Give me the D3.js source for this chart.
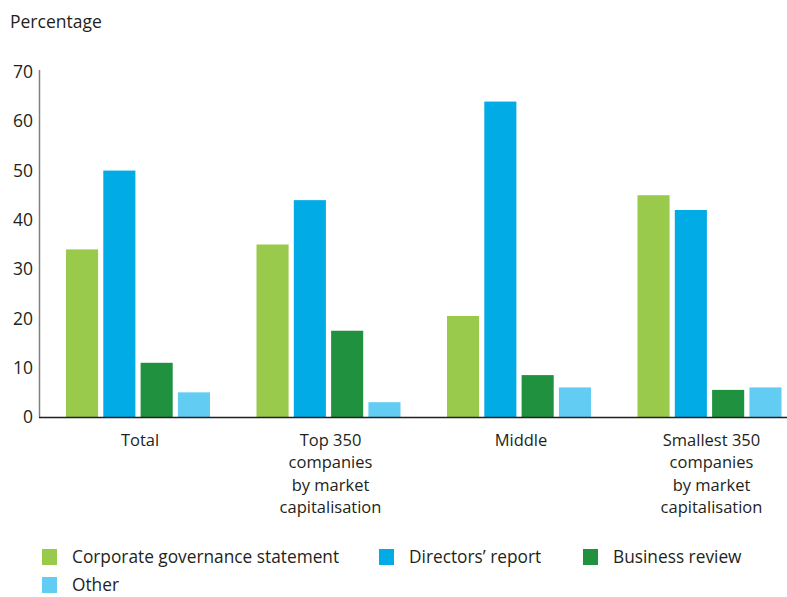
<!DOCTYPE html>
<html>
<head>
<meta charset="utf-8">
<script src="https://cdn.jsdelivr.net/npm/d3@7"></script>
<style>
  html, body { margin: 0; padding: 0; background: #fff; }
  svg { display: block; }
  text { font-family: "Open Sans", "Noto Sans", sans-serif; fill: #231f20; }
</style>
</head>
<body>
<svg id="chart" width="787" height="597"></svg>
<script>
// Groups along the x axis (each label may wrap over several lines)
const categories = ["Total", "Top 350 companies by market capitalisation", "Middle", "Smallest 350 companies by market capitalisation"];
const categoryLines = [["Total"], ["Top 350", "companies", "by market", "capitalisation"], ["Middle"], ["Smallest 350", "companies", "by market", "capitalisation"]];

// Where disclosures appear, by series (percentage of companies)
const seriesNames = ["Corporate governance statement", "Directors\u2019 report", "Business review", "Other"];
const seriesColors = ["#99ca4b", "#00abe6", "#20913f", "#62ccf2"];
const corporateGovernance = [34, 35, 20.5, 45];
const directorsReport = [50, 44, 64, 42];
const businessReview = [11, 17.5, 8.5, 5.5];
const other = [5, 3, 6, 6];
const seriesValues = [corporateGovernance, directorsReport, businessReview, other];

const yTicks = [0, 10, 20, 30, 40, 50, 60, 70];

const svg = d3.select("#chart");

const y = d3.scaleLinear().domain([0, 70]).range([417, 72]);
const x0 = d3.scaleBand().domain(categories).range([42.75, 804.75]).padding(0);
const x1 = d3.scaleBand().domain(seriesNames)
  .range([-72, 72]).paddingInner(0.14).paddingOuter(0);

// Bars
const groups = svg.append("g").selectAll("g")
  .data(categories)
  .join("g")
  .attr("transform", d => `translate(${x0(d) + x0.bandwidth() / 2},0)`);

groups.selectAll("rect")
  .data((c, ci) => seriesNames.map((s, si) => ({ s, si, v: seriesValues[si][ci] })))
  .join("rect")
  .attr("x", d => x1(d.s))
  .attr("width", x1.bandwidth())
  .attr("y", d => y(d.v))
  .attr("height", d => y(0) - y(d.v))
  .attr("fill", d => seriesColors[d.si]);

// Y axis
const yAxis = svg.append("g")
  .attr("transform", "translate(39,0)")
  .call(d3.axisLeft(y).tickValues(yTicks).tickSize(0).tickPadding(6));
yAxis.select(".domain").remove();
yAxis.selectAll("text")
  .style("font-family", "'Open Sans', 'Noto Sans', sans-serif")
  .style("font-size", "17.5px")
  .style("fill", "#231f20");

svg.append("line")
  .attr("x1", 39.5).attr("x2", 39.5)
  .attr("y1", 70).attr("y2", y(0))
  .attr("stroke", "#808080").attr("stroke-width", 1.5);

// X axis baseline
svg.append("line")
  .attr("x1", 39).attr("x2", 787)
  .attr("y1", y(0) + 0.5).attr("y2", y(0) + 0.5)
  .attr("stroke", "#231f20").attr("stroke-width", 1.5);

// Category labels
const xLabels = svg.append("g").selectAll("text")
  .data(categories)
  .join("text")
  .attr("text-anchor", "middle")
  .attr("x", d => x0(d) + x0.bandwidth() / 2 + 2)
  .attr("y", 446)
  .style("font-size", "16.5px");
xLabels.selectAll("tspan")
  .data((d, i) => categoryLines[i])
  .join("tspan")
  .attr("x", function () { return this.parentNode.getAttribute("x"); })
  .attr("dy", (d, i) => i === 0 ? 0 : 22.3)
  .text(d => d);

// Y axis title
svg.append("text")
  .attr("x", 10).attr("y", 28)
  .style("font-size", "17.5px")
  .text("Percentage");

// Legend
const legendItems = [
  { i: 0, x: 42, y: 557 },
  { i: 1, x: 379, y: 557 },
  { i: 2, x: 583, y: 557 },
  { i: 3, x: 42, y: 585 }
];
const legend = svg.append("g").selectAll("g")
  .data(legendItems)
  .join("g")
  .attr("transform", d => `translate(${d.x},${d.y})`);
legend.append("rect")
  .attr("x", 0).attr("y", -8)
  .attr("width", 15).attr("height", 16)
  .attr("fill", d => seriesColors[d.i]);
legend.append("text")
  .attr("x", 30).attr("y", 0)
  .attr("dy", "0.35em")
  .style("font-size", "17.3px")
  .text(d => seriesNames[d.i]);
</script>
</body>
</html>
